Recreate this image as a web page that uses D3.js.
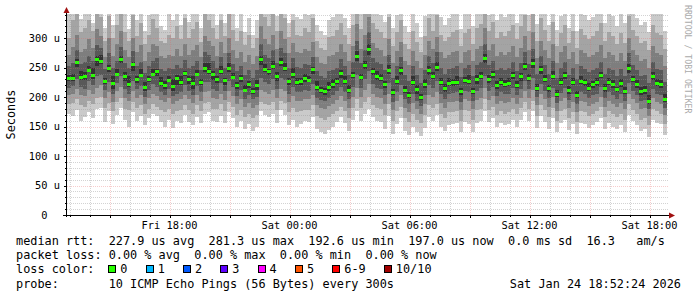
<!DOCTYPE html>
<html><head><meta charset="utf-8">
<script src="https://cdn.jsdelivr.net/npm/d3@7"></script>
<style>
html,body{margin:0;padding:0;background:#fff;}
svg{display:block;}
text{font-family:"DejaVu Sans Mono",monospace;}
</style>
</head><body>
<svg id="c" width="697" height="297"></svg>
<script>
// ---- data (µs), one value per 12-minute step ----
const med=[233,232,260,234,236,246,238,264,262,228,249,224,240,264,235,222,256,230,238,218,231,240,244,224,221,229,219,232,226,241,230,224,239,226,250,245,240,230,
244,229,249,234,220,232,212,222,210,220,264,247,244,252,236,259,250,228,240,226,227,232,229,247,218,212,210,218,222,228,241,228,212,238,270,234,255,
282,244,236,233,222,246,208,228,246,212,203,226,214,200,222,246,236,251,226,215,224,226,226,210,229,228,210,231,236,266,230,240,220,226,223,224,238,220,
235,252,232,258,216,247,230,216,236,205,226,237,212,226,203,228,226,216,222,225,238,215,226,222,213,224,210,249,230,222,210,212,194,236,224,222,197];
const p5=[227,228,251,229,229,243,230,252,256,223,242,214,236,258,227,217,245,224,235,211,225,236,235,219,214,226,211,220,220,236,223,214,235,220,242,240,229,224,
239,221,243,231,213,226,208,215,206,212,254,242,238,248,228,253,245,220,232,221,221,225,225,239,212,207,204,211,216,223,233,222,207,232,262,229,248,
272,238,229,228,216,240,203,222,238,207,198,220,206,195,216,238,231,245,220,208,219,219,221,203,224,222,205,223,230,258,224,233,214,221,217,219,230,215,
228,246,227,250,211,240,225,209,231,200,220,231,206,220,198,223,219,211,216,219,232,209,221,215,208,218,205,241,225,216,204,206,189,229,219,215,192];
const p6=[238,240,264,244,242,253,250,269,271,232,255,235,247,269,243,235,260,236,247,225,236,248,248,234,227,236,231,237,235,245,236,235,246,231,258,258,244,236,
252,233,258,241,226,237,221,228,215,229,270,256,248,262,242,266,258,232,249,233,233,240,236,251,227,218,215,226,230,233,246,236,220,243,278,240,262,
290,249,244,240,228,254,213,236,251,219,209,235,220,205,230,252,242,259,233,222,232,231,235,216,234,237,216,238,242,273,238,245,228,233,229,232,243,227,
241,258,239,264,223,252,238,221,244,212,233,242,219,232,210,235,231,224,228,232,243,222,232,229,218,231,217,256,236,229,217,219,203,242,230,229,205];
const p4=[216,219,230,218,214,228,221,235,238,212,226,205,224,236,213,206,228,213,219,200,212,222,218,208,204,213,202,206,209,220,210,203,219,208,225,226,214,211,
224,210,228,217,202,212,197,204,196,200,232,226,222,230,214,232,229,206,218,208,208,212,211,222,199,195,193,199,203,210,218,209,196,217,238,215,230,
244,222,215,214,203,224,192,209,220,196,188,206,194,185,203,221,216,227,206,196,206,207,208,192,211,208,194,210,215,236,210,218,202,208,205,206,215,203,
214,228,213,232,200,222,211,198,216,190,207,215,195,206,188,209,206,199,203,206,217,198,208,203,197,205,194,224,211,204,193,195,180,214,206,203,182];
const p7=[252,258,280,256,259,270,262,288,284,248,274,250,262,285,258,250,278,252,260,241,253,262,266,248,244,250,247,254,249,263,250,252,262,246,276,272,262,250,
268,250,274,256,244,252,238,246,232,246,290,272,266,280,258,284,274,250,266,251,250,256,254,268,244,235,233,244,246,250,264,252,238,260,296,258,280,
310,266,260,256,246,272,232,252,268,238,228,252,238,224,246,270,258,276,250,240,248,250,252,234,250,254,236,255,260,290,255,262,246,250,246,250,260,244,
258,276,256,282,240,270,255,240,262,232,250,260,238,250,230,252,248,242,246,250,260,240,250,246,236,248,236,274,254,246,236,238,224,260,248,246,226];
const p3=[204,205,214,203,202,212,206,216,220,199,208,192,210,218,198,194,210,199,204,188,198,206,202,195,191,198,189,193,196,204,196,190,204,194,208,210,198,197,
206,195,210,202,188,196,184,190,182,187,212,208,206,212,198,214,210,192,202,193,194,197,196,204,186,181,180,185,189,195,202,194,182,201,216,200,212,
222,205,200,198,188,206,178,194,203,182,175,190,180,172,188,204,200,208,190,182,191,192,193,178,196,193,180,195,199,216,195,202,188,193,190,192,199,189,
199,210,198,212,186,205,196,184,200,177,193,199,182,191,175,194,192,185,189,192,201,184,193,189,183,190,180,206,196,190,180,181,168,198,192,189,170];
const p8=[272,285,305,276,282,298,284,316,304,268,300,270,290,312,280,268,300,276,288,262,276,290,286,270,266,272,270,282,270,290,272,280,288,268,304,296,286,270,
294,274,300,280,266,276,260,272,256,270,320,298,290,306,282,312,298,274,292,276,274,282,278,294,268,258,256,270,272,276,290,276,262,286,324,282,306,
336,292,284,280,270,298,258,278,294,262,254,278,262,250,272,296,282,302,276,266,272,276,278,258,276,280,262,282,286,318,280,290,270,276,272,276,286,268,
284,304,280,310,266,296,280,266,290,258,276,286,264,276,256,280,274,268,272,276,288,266,276,272,262,274,262,300,280,272,262,264,250,286,274,272,252];
const p2=[188,190,196,186,184,194,188,198,200,182,190,176,192,198,180,178,192,182,186,172,180,188,184,178,174,180,172,176,178,186,178,172,186,176,190,192,180,180,
188,176,192,184,170,178,166,172,164,170,192,188,186,192,178,194,190,174,182,174,176,178,178,186,168,164,162,166,172,176,184,176,164,182,196,182,192,
200,186,182,180,170,188,160,176,184,164,158,172,162,156,170,186,182,188,172,164,174,174,176,160,178,176,162,178,180,196,178,184,170,176,172,174,180,172,
182,192,180,194,168,186,178,166,182,160,176,180,164,174,158,176,174,168,172,176,184,166,176,172,166,172,162,188,178,172,162,164,152,180,176,172,154];
const p9=[300,330,342,310,318,330,312,345,336,296,338,300,322,345,310,296,340,304,326,290,306,332,318,296,292,306,300,320,298,334,300,316,328,294,345,330,318,298,
330,304,342,314,296,312,288,306,284,300,345,336,320,345,312,345,334,302,330,306,304,318,310,334,296,284,280,302,304,314,326,306,290,322,345,316,345,
345,326,316,310,300,336,286,310,330,290,282,312,294,276,304,334,312,340,306,296,302,310,314,286,308,316,290,318,324,345,312,328,300,310,304,312,322,298,
320,340,312,345,296,334,314,296,328,286,308,322,292,312,284,316,306,298,304,312,326,296,310,304,290,308,292,338,314,304,292,296,280,322,308,306,282];
const p10=[345,345,345,332,345,345,326,345,345,318,345,322,345,345,345,316,345,330,345,312,340,345,345,320,314,345,330,345,322,345,328,345,345,318,345,345,345,322,
345,326,345,345,318,345,310,334,306,330,345,345,345,345,338,345,345,326,345,336,332,345,340,345,322,312,306,330,336,345,345,334,318,345,345,345,345,
345,345,345,340,328,345,318,340,345,320,310,345,326,302,338,345,345,345,336,322,334,345,345,316,345,345,320,345,345,345,340,345,330,345,336,345,345,326,
345,345,340,345,324,345,345,322,345,314,338,345,318,345,312,345,340,330,336,345,345,326,345,338,320,345,326,345,345,334,322,328,310,345,345,345,312];
const p1=[172,168,178,160,166,175,164,180,182,158,176,155,170,182,162,150,174,160,168,152,164,172,168,158,150,162,148,160,156,170,158,152,166,156,172,174,160,158,
168,156,174,164,150,160,146,154,142,150,176,170,166,172,156,178,170,152,162,150,154,160,158,166,146,140,138,144,150,158,166,156,142,162,176,160,172,
180,166,160,158,146,168,138,154,164,142,136,150,140,134,148,166,160,170,150,142,152,154,156,140,158,154,140,156,160,176,158,164,150,156,152,154,162,150,
162,174,160,176,148,168,158,146,164,140,156,162,144,154,138,156,154,148,152,158,164,146,156,150,146,152,140,170,160,152,142,146,132,162,156,154,136];

const yTicks=[0,50,100,150,200,250,300];
const yTickLabels=["0  ","50 u","100 u","150 u","200 u","250 u","300 u"];
const xTickTimes=[new Date(2026,0,23,18,0),new Date(2026,0,24,0,0),new Date(2026,0,24,6,0),new Date(2026,0,24,12,0),new Date(2026,0,24,18,0)];
const xTickLabels=["Fri 18:00","Sat 00:00","Sat 06:00","Sat 12:00","Sat 18:00"];
const lossLabels=["0","1","2","3","4","5","6-9","10/10"];
const lossColors=["#26ff00","#00b8ff","#0059ff","#5e00ff","#ff00ff","#ff5500","#ff0000","#a10000"];
const legendLines=[
 "median rtt:  227.9 us avg  281.3 us max  192.6 us min  197.0 us now  0.0 ms sd  16.3   am/s",
 "packet loss: 0.00 % avg  0.00 % max  0.00 % min  0.00 % now",
 "loss color:",
 "probe:       10 ICMP Echo Pings (56 Bytes) every 300s"];
const dateText="Sat Jan 24 18:52:24 2026";
const startTime=new Date(2026,0,23,12,52,24), endTime=new Date(2026,0,24,18,52,24);
const stepMin=12;

// ---- drawing ----
const svg=d3.select("#c");
const X0=67,X1=667,Y0=215,YT=14;
const x=d3.scaleTime().domain([startTime,endTime]).range([X0,X1]);
const y=d3.scaleLinear().domain([0,341]).range([Y0,YT]);
const N=med.length;
const t=i=>new Date(+startTime+i*stepMin*60000);

svg.append("rect").attr("width",697).attr("height",297).attr("fill","#fff");
svg.append("clipPath").attr("id","pc").append("rect")
  .attr("x",X0).attr("y",YT).attr("width",X1-X0).attr("height",Y0-YT);
const g=svg.append("g").attr("clip-path","url(#pc)").attr("shape-rendering","crispEdges");
const bands=[[p1,p10,"#cacaca"],[p2,p9,"#a4a4a4"],[p3,p8,"#7e7e7e"],[p4,p7,"#585858"],[p5,p6,"#323232"]];
bands.forEach(([lo,hi,c])=>{
  g.append("g").attr("fill",c).selectAll("rect").data(d3.range(N)).join("rect")
   .attr("x",i=>x(t(i))).attr("width",i=>x(t(i+1))-x(t(i)))
   .attr("y",i=>y(hi[i])).attr("height",i=>y(lo[i])-y(hi[i]));
});
g.append("g").attr("fill",lossColors[0]).selectAll("rect").data(d3.range(N)).join("rect")
  .attr("x",i=>x(t(i))).attr("width",i=>x(t(i+1))-x(t(i)))
  .attr("y",i=>Math.round(y(med[i]))-1).attr("height",3);

// grid (on top, translucent, dotted)
const grid=svg.append("g").attr("stroke-dasharray","1,1").attr("stroke-width",1).attr("shape-rendering","crispEdges");
const minorC="rgba(150,150,150,0.42)", majorC="rgba(230,100,100,0.32)";
d3.range(10,341,10).forEach(v=>{
  const yy=Math.round(y(v))+0.5;
  grid.append("line").attr("x1",X0).attr("x2",X1+2).attr("y1",yy).attr("y2",yy)
    .attr("stroke",v%50===0?majorC:minorC);
});
d3.timeHour.range(startTime,endTime).forEach(h=>{
  const xx=Math.round(x(h))+0.5;
  grid.append("line").attr("x1",xx).attr("x2",xx).attr("y1",YT).attr("y2",Y0)
    .attr("stroke",h.getHours()%3===0?majorC:minorC);
});

// axes
const ax=svg.append("g").attr("stroke","#000").attr("stroke-width",1).attr("shape-rendering","crispEdges");
ax.append("line").attr("x1",X0-0.5).attr("x2",X0-0.5).attr("y1",11).attr("y2",Y0+2);
ax.append("line").attr("x1",X0-4).attr("x2",X1+3).attr("y1",Y0+0.5).attr("y2",Y0+0.5);
d3.range(10,341,10).forEach(v=>{
  const yy=Math.round(y(v))+0.5;
  ax.append("line").attr("x1",X0-(v%50===0?3:2)).attr("x2",X0).attr("y1",yy).attr("y2",yy);
});
d3.timeHour.range(startTime,endTime).forEach(h=>{
  const xx=Math.round(x(h))+0.5;
  ax.append("line").attr("x1",xx).attr("x2",xx).attr("y1",Y0+1).attr("y2",Y0+(h.getHours()%3===0?3:2));
});
svg.append("path").attr("fill","#a01010")
  .attr("d",`M${X0-0.5},7 L${X0-3.5},13 L${X0+2.5},13 Z`);
svg.append("path").attr("fill","#a01010")
  .attr("d",`M${X1+8},${Y0+0.5} L${X1+2},${Y0-2.5} L${X1+2},${Y0+3.5} Z`);

// axis labels
const af=10.37;
svg.append("g").selectAll("text").data(yTicks).join("text")
  .attr("x",60).attr("y",v=>y(v)+3.8).attr("text-anchor","end")
  .attr("font-size",af).attr("xml:space","preserve").style("white-space","pre")
  .text((v,i)=>yTickLabels[i]);
svg.append("g").selectAll("text").data(xTickTimes).join("text")
  .attr("x",d=>x(d)).attr("y",228.5).attr("text-anchor","middle")
  .attr("font-size",af).text((d,i)=>xTickLabels[i]);
svg.append("text").attr("transform",`translate(14.5,${(Y0+YT)/2}) rotate(-90)`)
  .attr("text-anchor","middle").attr("font-size",11.85).text("Seconds");
svg.append("text").attr("transform","translate(684.5,5) rotate(90)")
  .attr("font-size",8.2).attr("fill","#aaaaaa").text("RRDTOOL / TOBI OETIKER");

// legend
const lf=11.85, cw=7.13, lx=16, lineY=[245,259.2,273.4,287.6];
svg.append("g").selectAll("text").data(legendLines).join("text")
  .attr("x",lx).attr("y",(d,i)=>lineY[i]).attr("font-size",lf)
  .attr("xml:space","preserve").style("white-space","pre").text(d=>d);
let bx=108.3;
lossLabels.forEach((lab,i)=>{
  svg.append("rect").attr("x",Math.round(bx)+0.5).attr("y",265.5).attr("width",7).attr("height",7)
    .attr("fill",lossColors[i]).attr("stroke","#000").attr("stroke-width",1);
  svg.append("text").attr("x",bx+12).attr("y",lineY[2]).attr("font-size",lf).text(lab);
  bx+=12+lab.length*cw+18.2;
});
svg.append("text").attr("x",681).attr("y",lineY[3]).attr("text-anchor","end")
  .attr("font-size",lf).text(dateText);
</script>
</body></html>
